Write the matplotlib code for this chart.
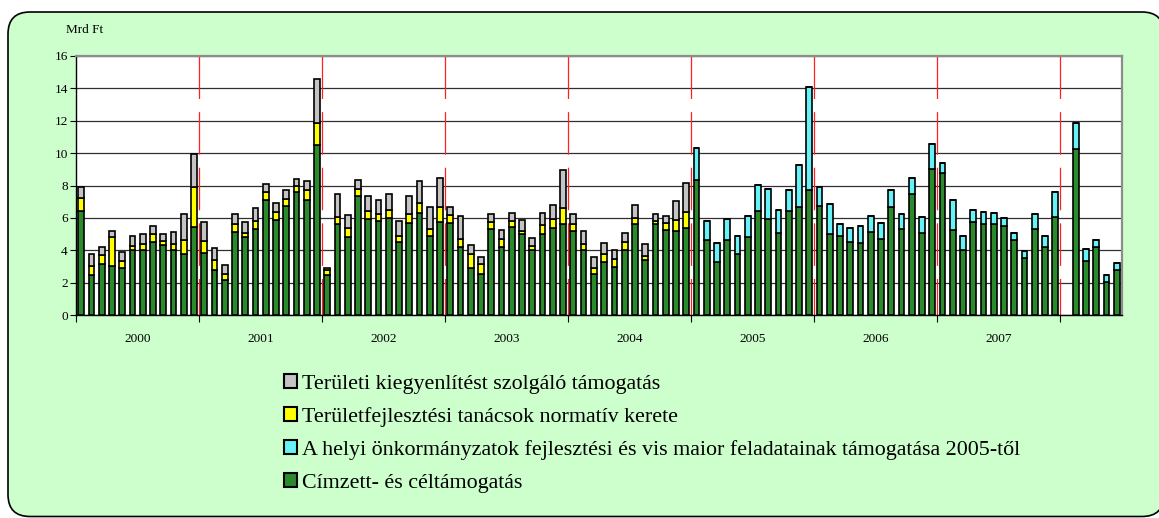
import numpy as np
import matplotlib
matplotlib.use("Agg")
import matplotlib.pyplot as plt
from matplotlib.patches import Patch, FancyBboxPatch

nan = np.nan

# Mrd Ft, monthly, 2000-01 .. 2008-06
years = ["2000", "2001", "2002", "2003", "2004", "2005", "2006", "2007"]

green = [
    6.45, 2.5, 3.16, 3.05, 2.9, 4.0, 4.0, 4.5, 4.3, 4.0, 3.75, 5.43,
    3.82, 2.75, 2.17, 5.12, 4.81, 5.33, 7.08, 5.88, 6.71, 7.58, 7.08, 10.49,
    2.5, 5.6, 4.81, 7.33, 5.9, 5.8, 6.01, 4.5, 5.68, 6.32, 4.87, 5.74,
    5.68, 4.23, 2.91, 2.54, 5.33, 4.23, 5.43, 5.02, 3.99, 5.02, 5.39, 5.6,
    5.18, 3.99, 2.54, 3.26, 2.99, 3.99, 5.6, 3.41, 5.64, 5.27, 5.18, 5.37,
    8.36, 4.65, 3.26, 4.65, 3.78, 4.81, 6.4, 5.95, 5.06, 6.4, 6.67, 7.74,
    6.71, 5.02, 4.91, 4.5, 4.44, 5.12, 4.71, 6.67, 5.33, 7.45, 5.06, 9.0,
    8.8, 5.27, 3.99, 5.74, 5.6, 5.6, 5.49, 4.65, 3.53, 5.33, 4.19, 6.05,
    nan, 10.28, 3.32, 4.19, 2.02, 2.81,
]
cyan = [0.0] * 60 + [
    1.98, 1.15, 1.18, 1.3, 1.09, 1.28, 1.65, 1.83, 1.4, 1.34, 2.62, 6.36,
    1.2, 1.81, 0.73, 0.87, 1.03, 0.97, 0.97, 1.03, 0.93, 1.04, 0.99, 1.55,
    0.62, 1.85, 0.88, 0.76, 0.76, 0.72, 0.52, 0.43, 0.43, 0.93, 0.68, 1.53,
    nan, 1.59, 0.75, 0.46, 0.46, 0.39,
]
yellow = [
    0.8, 0.55, 0.52, 1.75, 0.45, 0.25, 0.37, 0.48, 0.27, 0.4, 0.9, 2.48,
    0.78, 0.62, 0.37, 0.52, 0.25, 0.47, 0.52, 0.48, 0.43, 0.37, 0.66, 1.38,
    0.25, 0.45, 0.58, 0.43, 0.5, 0.42, 0.49, 0.37, 0.54, 0.62, 0.42, 0.93,
    0.47, 0.48, 0.83, 0.58, 0.41, 0.48, 0.35, 0.16, 0.26, 0.51, 0.51, 1.01,
    0.42, 0.41, 0.37, 0.52, 0.44, 0.51, 0.41, 0.22, 0.16, 0.41, 0.66, 0.99,
] + [0.0] * 42
gray = [
    0.65, 0.72, 0.5, 0.4, 0.55, 0.63, 0.65, 0.53, 0.46, 0.7, 1.6, 2.02,
    1.14, 0.78, 0.52, 0.58, 0.68, 0.83, 0.47, 0.58, 0.56, 0.45, 0.52, 2.69,
    0.16, 1.45, 0.8, 0.6, 0.93, 0.9, 0.95, 0.93, 1.11, 1.32, 1.38, 1.82,
    0.52, 1.4, 0.6, 0.45, 0.48, 0.56, 0.52, 0.66, 0.52, 0.79, 0.91, 2.33,
    0.66, 0.82, 0.66, 0.66, 0.56, 0.58, 0.76, 0.73, 0.42, 0.43, 1.18, 1.82,
] + [0.0] * 42

labels = [
    "Területi kiegyenlítést szolgáló támogatás",
    "Területfejlesztési tanácsok normatív kerete",
    "A helyi önkormányzatok fejlesztési és vis maior feladatainak támogatása 2005-től",
    "Címzett- és céltámogatás",
]
c_gray, c_yellow, c_cyan, c_green = "#C4C4C4", "#FFFF00", "#66F2F7", "#2B8A2B"

plt.rcParams["font.family"] = ["Liberation Serif", "DejaVu Serif"]

fig = plt.figure(figsize=(11.59, 5.18), dpi=100)
# rounded light-green frame, runs off the right edge like the original
fig.patches.append(FancyBboxPatch((0.08, 0.015), 11.56, 5.045,
                                  boxstyle="round,pad=0,rounding_size=0.22",
                                  transform=fig.dpi_scale_trans, zorder=-5,
                                  facecolor="#CCFFCC", edgecolor="black", lw=1.2))

ax = fig.add_axes([76 / 1159, 1 - 315 / 518, (1122 - 76) / 1159, (315 - 56) / 518])
ax.set_facecolor("white")

x = np.arange(len(green))
g = np.array(green)
c = np.array(cyan)
yl = np.array(yellow)
gr = np.array(gray)
w = 0.56
kw = dict(width=w, edgecolor="black", linewidth=1.2, zorder=3)
ax.bar(x, g, color=c_green, **kw)
ax.bar(x, c, bottom=g, color=c_cyan, **kw)
ax.bar(x, yl, bottom=g + c, color=c_yellow, **kw)
ax.bar(x, gr, bottom=g + c + yl, color=c_gray, **kw)

ax.set_xlim(-0.5, len(green) - 0.5)
ax.set_ylim(0, 16)
ax.set_yticks(range(0, 17, 2))
ax.yaxis.grid(True, color="#303030", lw=0.9, zorder=0)
ax.tick_params(axis="y", labelsize=9.5, length=4, width=0.8, pad=2)

bounds = np.arange(len(years) + 1) * 12 - 0.5
ax.set_xticks(bounds)
ax.set_xticklabels([])
ax.set_xticks(np.arange(len(years)) * 12 + 5.5, minor=True)
ax.set_xticklabels(years, minor=True, fontsize=9.5)
ax.tick_params(axis="x", which="major", length=5, width=0.8)
ax.tick_params(axis="x", which="minor", length=0, pad=13)

for b in bounds[1:]:
    ax.plot([b, b], [16, 0], color="#FF2020", lw=0.9, dashes=(34, 10.5), zorder=2)

for s in ["left", "bottom"]:
    ax.spines[s].set_color("black")
    ax.spines[s].set_linewidth(1)
for s in ["top", "right"]:
    ax.spines[s].set_color("#8C8C8C")
    ax.spines[s].set_linewidth(1.6)

fig.text(66 / 1159, 1 - 30 / 518, "Mrd Ft", fontsize=9.5, va="center", ha="left")

handles = [Patch(facecolor=col, edgecolor="black", lw=1.5)
           for col in [c_gray, c_yellow, c_cyan, c_green]]
fig.legend(handles, labels, loc="upper left", bbox_to_anchor=(284 / 1159, 1 - 374 / 518),
           frameon=False, fontsize=15.8, handlelength=0.6, handleheight=0.6,
           handletextpad=0.2, labelspacing=0.6, borderpad=0, borderaxespad=0)

fig.savefig("out.png", dpi=100)
